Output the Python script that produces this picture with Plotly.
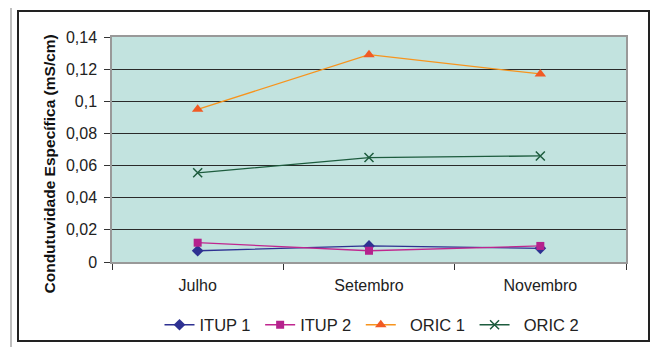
import plotly.graph_objects as go

months = ["Julho", "Setembro", "Novembro"]
itup1 = [0.007, 0.010, 0.0085]
itup2 = [0.012, 0.007, 0.010]
oric1 = [0.095, 0.129, 0.117]
oric2 = [0.0555, 0.065, 0.066]
y_tickvals = [0, 0.02, 0.04, 0.06, 0.08, 0.10, 0.12, 0.14]
y_ticktext = ["0", "0,02", "0,04", "0,06", "0,08", "0,1", "0,12", "0,14"]
y_title = "Condutuvidade Específica (mS/cm)"

# the page body adds an 8px offset; size the figure so it fills the 663x347 view
OFF = 8
W, H = 663 - OFF, 347 - OFF
PL, PR, PT, PB = 112, 626, 37, 262  # plot area in view pixels
L, R, T, B = PL - OFF, 663 - PR, PT - OFF, 347 - PB
PW, PH = PR - PL, PB - PT

def px_x(p):
    return (p - PL) / PW

def px_y(p):
    return (PB - p) / PH

FONT = "Liberation Sans, Arial, sans-serif"
NB = "\u00a0"

fig = go.Figure()
series = [
    ("ITUP 1" + NB, itup1, "#2E3192", "#2E3192", "diamond", 9),
    ("ITUP 2" + NB, itup2, "#C0268F", "#B5228D", "square", 8),
    (NB * 2 + "ORIC 1" + NB, oric1, "#F7941D", "#F15A24", "triangle-up", 10),
    (NB * 2 + "ORIC 2", oric2, "#1D5C3E", "#1D5C3E", "x-thin", 9),
]
for name, vals, lc, mc, sym, sz in series:
    marker = dict(symbol=sym, size=sz, color=mc)
    if sym == "x-thin":
        marker["line"] = dict(color=mc, width=1.5)
    fig.add_trace(go.Scatter(
        x=months, y=vals, name=name, mode="lines+markers",
        line=dict(color=lc, width=1.3), marker=marker,
    ))

fig.update_layout(
    width=W, height=H,
    margin=dict(l=L, r=R, t=T, b=B, autoexpand=False),
    paper_bgcolor="white",
    plot_bgcolor="#C2E3DF",
    font=dict(family=FONT, size=15.5, color="#222222"),
    showlegend=True,
    legend=dict(orientation="h", x=px_x(372), xanchor="center", y=px_y(325), yanchor="middle",
                font=dict(size=16.5, color="#222222"), itemwidth=30,
                bgcolor="rgba(0,0,0,0)", traceorder="normal"),
    xaxis=dict(
        type="category", tickson="boundaries", ticks="outside", ticklen=6,
        tickcolor="#333333", showgrid=False, showline=True, linecolor="#999999",
        linewidth=1.5, mirror=True, ticklabelstandoff=8, zeroline=False,
        tickfont=dict(size=16), range=[-0.5, 2.5],
    ),
    yaxis=dict(
        range=[0, 0.14], tickvals=y_tickvals, ticktext=y_ticktext,
        ticks="outside", ticklen=6, tickcolor="#333333",
        showgrid=True, gridcolor="#2A2A2A", gridwidth=1.2,
        showline=True, linecolor="#999999", linewidth=1.5, mirror=True,
        zeroline=False, ticklabelstandoff=4, tickfont=dict(size=16),
    ),
    annotations=[
        dict(text="<b>" + y_title + "</b>", textangle=-90, showarrow=False,
             xref="paper", yref="paper", x=px_x(49), y=px_y(164.5),
             xanchor="center", yanchor="middle",
             font=dict(size=15.5, color="#111111")),
    ],
    shapes=[
        dict(type="rect", xref="paper", yref="paper",
             x0=px_x(11), x1=px_x(658), y0=px_y(360), y1=px_y(3),
             line=dict(color="#AAAAAA", width=1.5), layer="below"),
        dict(type="rect", xref="paper", yref="paper",
             x0=px_x(18), x1=px_x(649), y0=px_y(341), y1=px_y(11),
             line=dict(color="#222222", width=2), layer="below"),
    ],
)

fig.write_html("out.html")
